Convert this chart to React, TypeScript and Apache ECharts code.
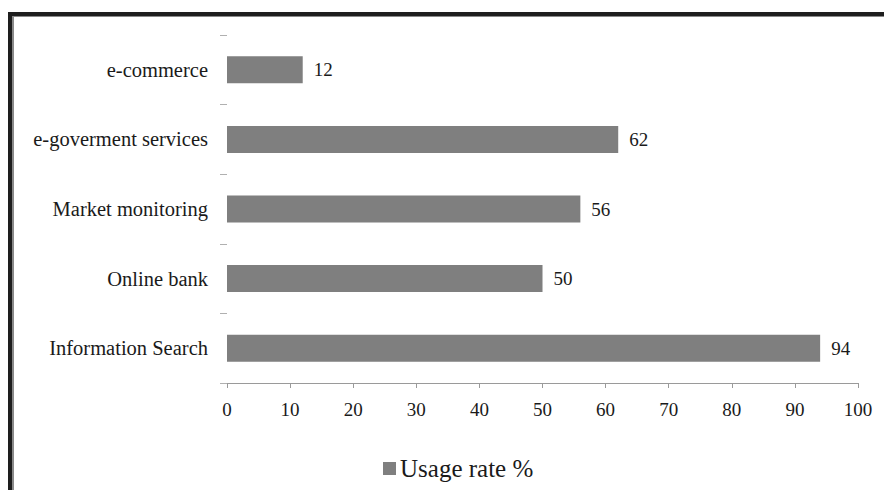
import React, { useEffect, useRef } from "react";
import * as echarts from "echarts";

const categories = [
  "Information Search",
  "Online bank",
  "Market monitoring",
  "e-goverment services",
  "e-commerce",
];
const usageRate = [94, 50, 56, 62, 12];
const seriesName = "Usage rate %";

const FONT = "'Liberation Serif', 'Times New Roman', serif";

export default function App() {
  const ref = useRef<HTMLDivElement>(null);
  useEffect(() => {
    if (!ref.current) return;
    const chart = echarts.init(ref.current, undefined, { renderer: "svg" });
    chart.setOption({
      animation: false,
      backgroundColor: "#ffffff",
      textStyle: { fontFamily: FONT },
      grid: { left: 227, right: 26, top: 35, bottom: 107, containLabel: false },
      legend: {
        data: [seriesName],
        left: 378,
        top: 451,
        itemWidth: 13,
        itemHeight: 13,
        itemGap: 10,
        icon: "rect",
        textStyle: { fontFamily: FONT, fontSize: 25, color: "#1a1a1a", padding: [0, 0, 0, -1] },
      },
      xAxis: {
        type: "value",
        min: 0,
        max: 100,
        interval: 10,
        splitLine: { show: false },
        axisLine: { show: true, lineStyle: { color: "#9a9a9a", width: 1 } },
        axisTick: { show: true, length: 5, lineStyle: { color: "#9a9a9a" } },
        axisLabel: { fontFamily: FONT, fontSize: 19, color: "#1a1a1a", margin: 17 },
      },
      yAxis: {
        type: "category",
        data: categories,
        axisLine: { show: false },
        axisTick: { show: true, length: 7, lineStyle: { color: "#b0b0b0" } },
        axisLabel: { fontFamily: FONT, fontSize: 20.5, color: "#1a1a1a", margin: 19 },
      },
      series: [
        {
          name: seriesName,
          type: "bar",
          data: usageRate,
          barWidth: 27,
          itemStyle: { color: "#7f7f7f" },
          label: {
            show: true,
            position: "right",
            distance: 11,
            fontFamily: FONT,
            fontSize: 19,
            color: "#1a1a1a",
          },
        },
      ],
      graphic: [
        { type: "rect", shape: { x: 8, y: 12, width: 4, height: 478 }, style: { fill: "#1e1e1e" } },
        { type: "rect", shape: { x: 8, y: 12, width: 876, height: 4 }, style: { fill: "#1e1e1e" } },
        { type: "rect", shape: { x: 12, y: 16, width: 2, height: 474 }, style: { fill: "#8a8a8a" } },
        { type: "rect", shape: { x: 12, y: 16, width: 872, height: 1 }, style: { fill: "#8a8a8a" } },
      ],
    });
    return () => chart.dispose();
  }, []);
  return (
    <div
      ref={ref}
      style={{ position: "absolute", left: 0, top: 0, width: 884, height: 490 }}
    />
  );
}
